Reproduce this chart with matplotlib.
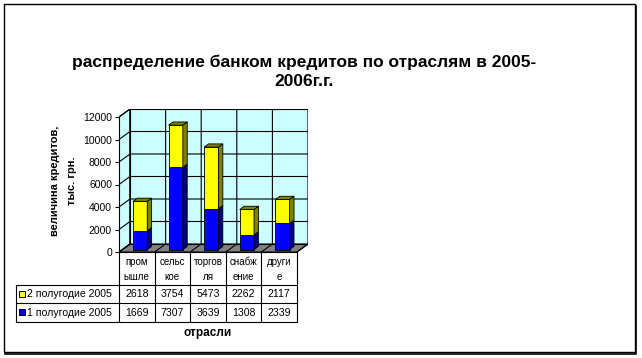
import matplotlib
matplotlib.use("Agg")
import matplotlib.pyplot as plt
from matplotlib.patches import Polygon, Rectangle

plt.rcParams['font.family'] = ['Liberation Sans', 'DejaVu Sans']

# data
categories = ["пром\nышле", "сельс\nкое", "торгов\nля", "снабж\nение", "други\nе"]
series_names = ["2 полугодие 2005", "1 полугодие 2005"]
half2 = [2618, 3754, 5473, 2262, 2117]
half1 = [1669, 7307, 3639, 1308, 2339]
yticks = [0, 2000, 4000, 6000, 8000, 10000, 12000]

W, H = 642, 358
fig = plt.figure(figsize=(W / 100, H / 100), dpi=100)

# background overlay in pixel coords (frame, table, labels)
bg = fig.add_axes([0, 0, 1, 1])
bg.set_xlim(0, W)
bg.set_ylim(H, 0)
bg.axis('off')

# plot box in pixels
L, R, T, B = 119, 308, 109, 252
ax = fig.add_axes([L / W, (H - B) / H, (R - L) / W, (B - T) / H])
ax.patch.set_alpha(0)

n = len(categories)
ymax = yticks[-1]
# depth offset (in data units) of the 3D box: 11px right, 8px up
DX = 11 * (n / (R - L - 11))
DY = 8 * (ymax / (B - T - 8))
ax.set_xlim(-0.5, n - 0.5 + DX)
ax.set_ylim(0, ymax + DY)

def P(x, y, d):
    return (x + d * DX, y + d * DY)

wall = '#CCFFFF'
# floor
ax.add_patch(Polygon([P(-0.5, 0, 0), P(n - 0.5, 0, 0), P(n - 0.5, 0, 1), P(-0.5, 0, 1)],
                     closed=True, fc='#808080', ec='black', lw=0.8, zorder=1))
# left wall
ax.add_patch(Polygon([P(-0.5, 0, 0), P(-0.5, ymax, 0), P(-0.5, ymax, 1), P(-0.5, 0, 1)],
                     closed=True, fc=wall, ec='black', lw=0.8, zorder=1))
# back wall
ax.add_patch(Polygon([P(-0.5, 0, 1), P(n - 0.5, 0, 1), P(n - 0.5, ymax, 1), P(-0.5, ymax, 1)],
                     closed=True, fc=wall, ec='black', lw=0.8, zorder=1))
for v in yticks:
    xs, ys = zip(P(-0.5, v, 0), P(-0.5, v, 1), P(n - 0.5, v, 1))
    ax.plot(xs, ys, color='black', lw=0.8, zorder=2)
for i in range(n + 1):
    xb = i - 0.5
    xs, ys = zip(P(xb, 0, 0), P(xb, 0, 1), P(xb, ymax, 1))
    ax.plot(xs, ys, color='black', lw=0.8, zorder=2)

# bars
bw = 0.4
f0, f1 = 0.3, 0.7
styles = [('#0000FF', '#000080'), ('#FFFF00', '#808000')]
for i in range(n):
    segs = [(0, half1[i]), (half1[i], half1[i] + half2[i])]
    xl, xr = i - bw / 2, i + bw / 2
    for k, (b, t) in enumerate(segs):
        face, dark = styles[k]
        ax.bar(i + f0 * DX, t - b, width=bw, bottom=b + f0 * DY, color=face,
               edgecolor='black', linewidth=0.6, zorder=5)
        ax.add_patch(Polygon([P(xr, b, f0), P(xr, b, f1), P(xr, t, f1), P(xr, t, f0)],
                             closed=True, fc=dark, ec='black', lw=0.6, zorder=5))
        if k == len(segs) - 1:
            ax.add_patch(Polygon([P(xl, t, f0), P(xr, t, f0), P(xr, t, f1), P(xl, t, f1)],
                                 closed=True, fc=dark, ec='black', lw=0.6, zorder=5))

for s in ['top', 'right', 'bottom']:
    ax.spines[s].set_visible(False)
ax.spines['left'].set_bounds(0, ymax)
ax.spines['left'].set_linewidth(0.8)
ax.set_yticks(yticks)
ax.set_yticklabels([str(v) for v in yticks], fontsize=7.5)
ax.tick_params(axis='y', length=3, width=0.8, pad=2)
ax.set_xticks([])

# title and axis labels
bg.text(304, 72, "распределение банком кредитов по отраслям в 2005-\n2006г.г.",
        ha='center', va='center', fontsize=12.5, fontweight='bold', linespacing=1.3)
bg.text(55, 181, "величина кредитов,", rotation=90, ha='center', va='center',
        fontsize=8, fontweight='bold')
bg.text(72, 181, "тыс. грн.", rotation=90, ha='center', va='center',
        fontsize=8, fontweight='bold')
bg.text(208, 333, "отрасли", ha='center', va='center', fontsize=8.5, fontweight='bold')

# data table
cw = (297 - L) / n
colx = [L + i * cw for i in range(n + 1)]
rows_y = [B, 285, 303, 322]
tl = 16
lw = 0.8
bg.plot([colx[0], colx[-1]], [B, B], color='black', lw=lw)
for x in colx:
    bg.plot([x, x], [B, rows_y[-1]], color='black', lw=lw)
bg.plot([tl, tl], [rows_y[1], rows_y[-1]], color='black', lw=lw)
for y in rows_y[1:]:
    bg.plot([tl, colx[-1]], [y, y], color='black', lw=lw)
for i, c in enumerate(categories):
    bg.text((colx[i] + colx[i + 1]) / 2, (rows_y[0] + rows_y[1]) / 2 + 1, c,
            ha='center', va='center', fontsize=7, linespacing=1.6)
row_vals = [half2, half1]
row_cols = ['#FFFF00', '#0000FF']
for r in range(2):
    yc = (rows_y[r + 1] + rows_y[r + 2]) / 2
    bg.add_patch(Rectangle((18.5, yc - 3.5), 6, 6, fc=row_cols[r], ec='black', lw=0.7))
    bg.text(27, yc, series_names[r], ha='left', va='center', fontsize=7.6)
    for i, v in enumerate(row_vals[r]):
        bg.text((colx[i] + colx[i + 1]) / 2, yc, str(v), ha='center', va='center', fontsize=7.6)

# chart frame with shadow
bg.add_patch(Rectangle((4, 4), 631, 348, fill=False, ec='black', lw=1))
bg.plot([636, 636, 5], [6, 353.5, 353.5], color='black', lw=1.2)

fig.savefig("out.png", dpi=100)
